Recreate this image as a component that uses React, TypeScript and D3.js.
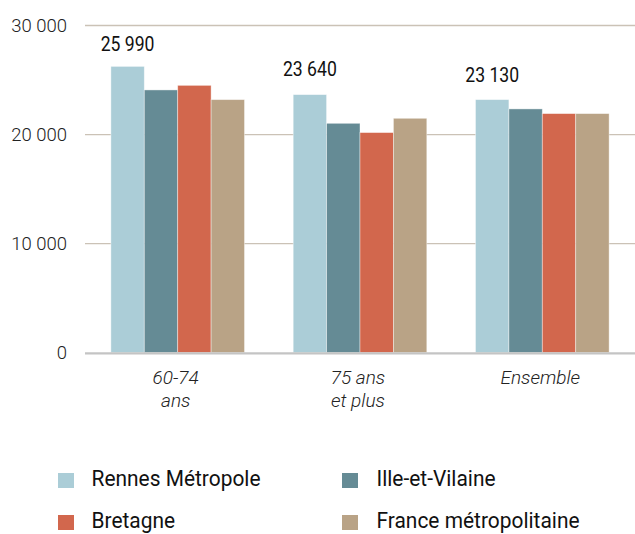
import React from "react";
import * as d3 from "d3";

const categories = ["60-74 ans", "75 ans et plus", "Ensemble"];
const categoryLines = [["60-74", "ans"], ["75 ans", "et plus"], ["Ensemble"]];
const seriesNames = ["Rennes Métropole", "Ille-et-Vilaine", "Bretagne", "France métropolitaine"];
const seriesColors = ["#abcdd7", "#658b95", "#d2674d", "#b9a386"];
const rennesValues = [26250, 23660, 23200];
const illeValues = [24090, 21030, 22350];
const bretagneValues = [24510, 20180, 21920];
const franceValues = [23200, 21490, 21920];
const valueLabels = [25990, 23640, 23130];
const yTicks = [0, 10000, 20000, 30000];

const W = 635;
const H = 534;
const FONT = "Roboto, 'Noto Sans', sans-serif";

export default function App() {
  const series = [rennesValues, illeValues, bretagneValues, franceValues];
  const x = d3.scaleBand<string>().domain(categories).range([85, 635]).paddingInner(0.267).paddingOuter(0.142);
  const xi = d3.scaleBand<number>().domain(d3.range(series.length)).range([0, x.bandwidth()]).padding(0);
  const y = d3.scaleLinear().domain([0, 30000]).range([352.6, 25.5]);
  const fmt = (v: number) => d3.format(",")(v).replace(/,/g, " ");

  return (
    <svg width={W} height={H} style={{ position: "absolute", left: 0, top: 0, background: "#fff" }} fontFamily={FONT}>
      {yTicks.filter((t) => t > 0).map((t) => (
        <line key={t} x1={85} x2={635} y1={y(t)} y2={y(t)} stroke="#cbc2b6" strokeWidth={1.3} />
      ))}
      {yTicks.map((t) => (
        <text key={"l" + t} x={67} y={y(t) + 6.7} textAnchor="end" fontSize={18.5} fontWeight={300} fill="#222">
          {fmt(t)}
        </text>
      ))}
      {categories.map((c, ci) => (
        <g key={c} transform={`translate(${x(c)},0)`}>
          {series.map((vals, si) => (
            <rect
              key={si}
              x={xi(si)}
              y={y(vals[ci])}
              width={xi.bandwidth()}
              height={y(0) - y(vals[ci])}
              fill={seriesColors[si]}
              stroke="#ffffff"
              strokeOpacity={0.5}
              strokeWidth={0.8}
            />
          ))}
        </g>
      ))}
      <line x1={85} x2={635} y1={y(0) + 0.8} y2={y(0) + 0.8} stroke="#c4c4c4" strokeWidth={2.4} />
      {categories.map((c, ci) => {
        const cx = (x(c) as number) + (xi(0) as number) + xi.bandwidth() / 2;
        const ly = y(valueLabels[ci]) - 18.5;
        return (
          <text
            key={"v" + c}
            transform={`translate(${cx},${ly}) scale(0.88,1)`}
            textAnchor="middle"
            fontSize={20}
            fontWeight={400}
            fill="#111"
          >
            {fmt(valueLabels[ci])}
          </text>
        );
      })}
      {categories.map((c, ci) => {
        const cx = (x(c) as number) + x.bandwidth() / 2 - 2;
        return (
          <text key={"c" + c} textAnchor="middle" fontSize={19} fontWeight={300} fontStyle="italic" fill="#222">
            {categoryLines[ci].map((ln, li) => (
              <tspan key={li} x={cx} y={383.5 + li * 23}>
                {ln}
              </tspan>
            ))}
          </text>
        );
      })}
      {seriesNames.map((name, si) => {
        const col = si % 2;
        const row = Math.floor(si / 2);
        const sx = col === 0 ? 58 : 342;
        const tx = col === 0 ? 91.5 : 376.5;
        const by = 486 + row * 42;
        return (
          <g key={name}>
            <rect x={sx} y={by - 13} width={16} height={15} fill={seriesColors[si]} />
            <text transform={`translate(${tx},${by}) scale(0.93,1)`} fontSize={22.5} fontWeight={400} fill="#111">
              {name}
            </text>
          </g>
        );
      })}
    </svg>
  );
}
